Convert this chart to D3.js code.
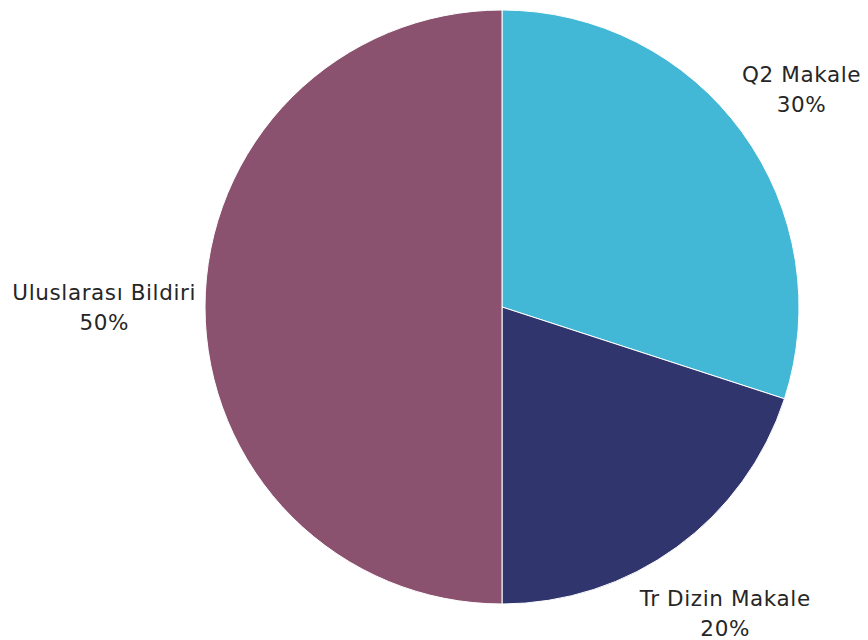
<!DOCTYPE html>
<html>
<head>
<meta charset="utf-8">
<script src="https://cdn.jsdelivr.net/npm/d3@7"></script>
<style>
  html, body { margin: 0; padding: 0; background: #fff; }
  svg text { font-family: "DejaVu Sans", "Noto Sans", sans-serif; fill: #262626; }
</style>
</head>
<body>
<svg id="chart"></svg>
<script>
// =====================================================
// Data
// =====================================================
const categories = ["Q2 Makale", "Tr Dizin Makale", "Uluslarası Bildiri"];
const values     = [30, 20, 50];
const colors     = ["#42b8d6", "#31356e", "#8b5270"];

// =====================================================
// Layout
// =====================================================
const width  = 868;
const height = 640;
const cx     = 502;
const cy     = 307;
const radius = 297;

const svg = d3.select("#chart")
  .attr("width", width)
  .attr("height", height);

const g = svg.append("g")
  .attr("transform", `translate(${cx}, ${cy})`);

const data = categories.map((c, i) => ({ name: c, value: values[i], color: colors[i] }));
const total = d3.sum(values);

const pie = d3.pie()
  .sort(null)
  .value(d => d.value);

const arc = d3.arc()
  .innerRadius(0)
  .outerRadius(radius);

const arcs = pie(data);

// ------------
// Slices
// ===================
g.selectAll("path.slice")
  .data(arcs)
  .enter()
  .append("path")
  .attr("class", "slice")
  .attr("d", arc)
  .attr("fill", d => d.data.color)
  .attr("stroke", "#ffffff")
  .attr("stroke-width", 1);

// ------------
// Labels (outside, nearest edge kept a fixed gap from the rim)
// ===================
const gap   = 9;
const lineH = 30;
const fsize = 21.5;

arcs.forEach(d => {
  const a   = (d.startAngle + d.endAngle) / 2;
  const sin = Math.sin(a);
  const cos = -Math.cos(a);

  const lbl = g.append("g");
  lbl.append("text")
    .attr("text-anchor", "middle")
    .attr("font-size", fsize)
    .attr("letter-spacing", 0.6)
    .attr("y", -lineH / 2 + 7)
    .text(d.data.name);
  lbl.append("text")
    .attr("text-anchor", "middle")
    .attr("font-size", fsize)
    .attr("letter-spacing", 0.6)
    .attr("y", lineH / 2 + 7)
    .text(Math.round(d.data.value / total * 100) + "%");

  const bb = lbl.node().getBBox();
  const R  = radius + gap + (bb.width / 2) * Math.abs(sin) + (bb.height / 2) * Math.abs(cos);
  const bx = bb.x + bb.width / 2;
  const by = bb.y + bb.height / 2;
  lbl.attr("transform", `translate(${R * sin - bx}, ${R * cos - by})`);
});
</script>
</body>
</html>
